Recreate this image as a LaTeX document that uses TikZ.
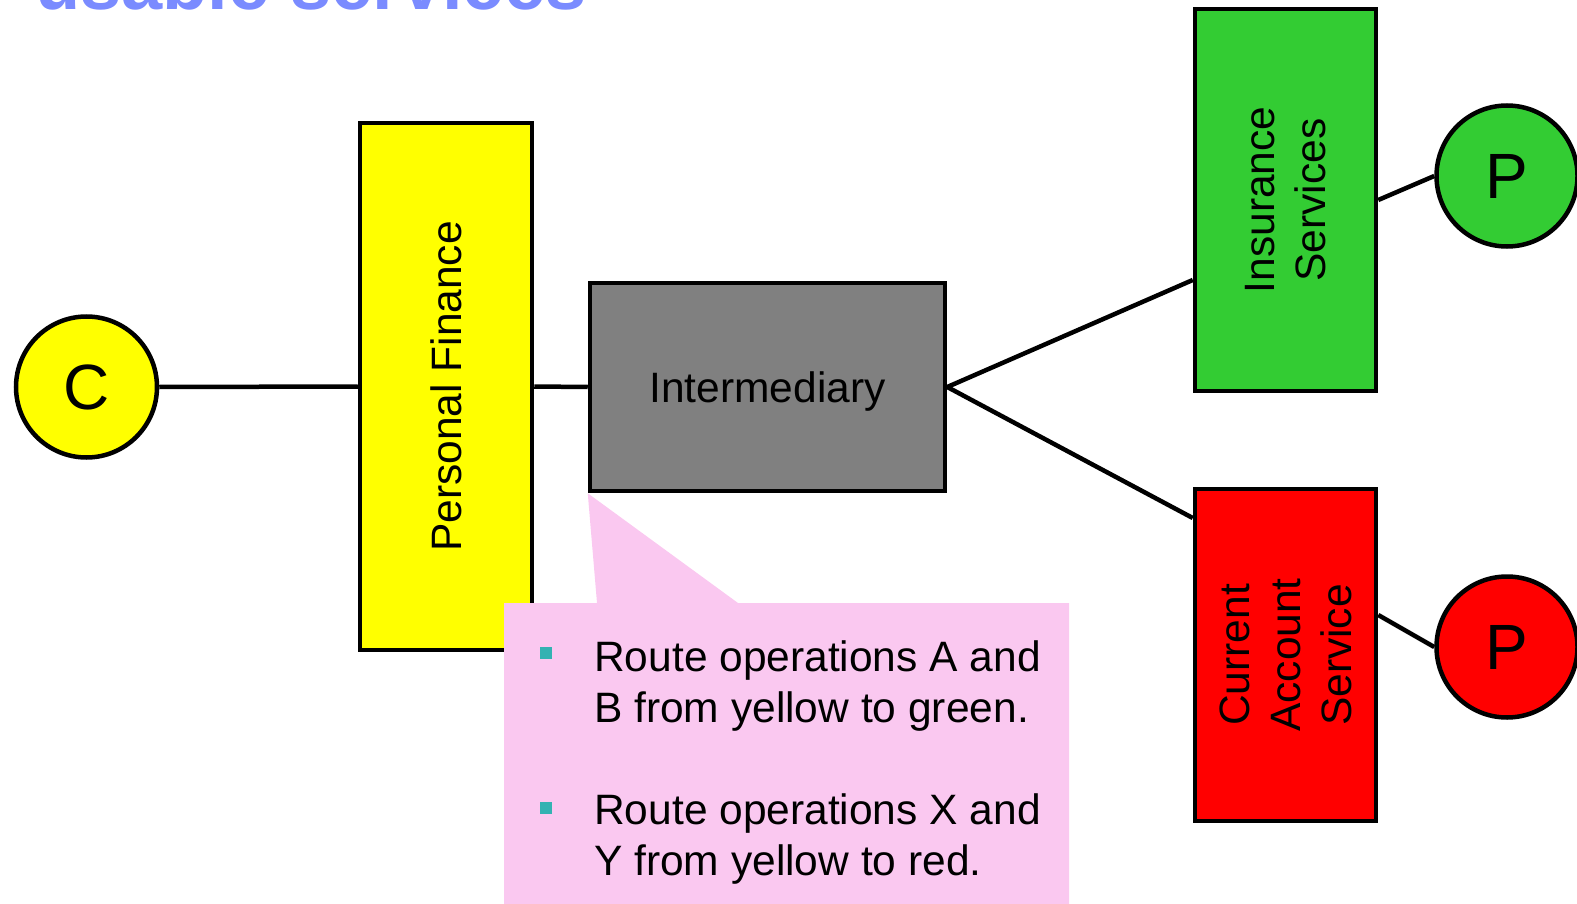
\documentclass[tikz,border=0pt]{standalone}
\usepackage{fontspec}
\setmainfont{Liberation Sans}
\definecolor{titleblue}{RGB}{122,139,255}
\definecolor{boxyellow}{RGB}{255,255,0}
\definecolor{boxgray}{RGB}{128,128,128}
\definecolor{boxgreen}{RGB}{51,204,51}
\definecolor{boxred}{RGB}{255,0,0}
\definecolor{notepink}{RGB}{250,200,240}
\definecolor{bulletteal}{RGB}{51,178,178}

\begin{document}
\begin{tikzpicture}[x = 1pt, y = -1pt, line width = 4.5pt,
    bigfont/.style = {font = \fontsize{42.5}{51}\selectfont},
    service/.style = {draw = black, inner sep = 0pt, text depth = 0pt, bigfont, align = center},
    party/.style = {draw = black, circle, inner sep = 0pt, text depth = 0pt, minimum size = 141pt, font = \fontsize{64}{64}\selectfont},
    vlabel/.style = {rotate = 90, bigfont, align = center, inner sep = 0pt},
    link/.style = {draw = black, line width = 4.5pt},
    bulletmark/.style = {fill = bulletteal, inner sep = 0pt, minimum size = 12pt},
    notetext/.style = {bigfont, align = left, inner sep = 0pt, anchor = base west}]

    \useasboundingbox (0, 0) rectangle (1577, 904);
    \clip (0, 0) rectangle (1577, 904);

    % title, cut off by the top edge
    \node [font = \fontsize{74}{80}\selectfont\bfseries, text = titleblue, anchor = base west, inner sep = 0pt] (title) at (33, 10) {usable services};

    % consumer and providers
    \node [party, fill = boxyellow] (cust) at (86.5, 387) {C};
    \node [party, fill = boxgreen]  (provins) at (1507, 176) {P};
    \node [party, fill = boxred]    (provcas) at (1507, 647) {P};

    % services
    \node [service, fill = boxyellow, minimum width = 172pt, minimum height = 527pt,
        label = {[vlabel]center:Personal Finance}] (pf) at (446, 386.5) {};
    \node [service, fill = boxgray, minimum width = 355pt, minimum height = 208pt] (inter) at (767.5, 387) {Intermediary};
    \node [service, fill = boxgreen, minimum width = 181pt, minimum height = 382pt,
        label = {[vlabel]center:Insurance\\Services}] (ins) at (1285.5, 200) {};
    \node [service, fill = boxred, minimum width = 181pt, minimum height = 332pt,
        label = {[vlabel]center:Current\\Account\\Service}] (cas) at (1285.5, 655) {};

    % connectors
    \draw [link] (cust.east) -- (pf.west);
    \draw [link] (pf.east) -- (inter.west);
    \draw [link] (inter.east) -- ([yshift = -80pt] ins.west);
    \draw [link] (inter.east) -- ([yshift = 137pt] cas.west);
    \draw [link] (ins.east) -- (provins.west);
    \draw [link] ([yshift = 40pt] cas.east) -- (provcas.west);

    % callout
    \fill [notepink] (504, 603) -- (597, 603) -- (inter.south west) -- (738, 603) -- (1069, 603) -- (1069, 910) -- (504, 910) -- cycle;
    \node [bulletmark] (bulletab) at (546, 653) {};
    \node [notetext] (routeab) at (592, 722) {Route operations A and\\B from yellow to green.};
    \node [bulletmark] (bulletxy) at (546, 808) {};
    \node [notetext] (routexy) at (592, 875) {Route operations X and\\Y from yellow to red.};
\end{tikzpicture}
\end{document}
